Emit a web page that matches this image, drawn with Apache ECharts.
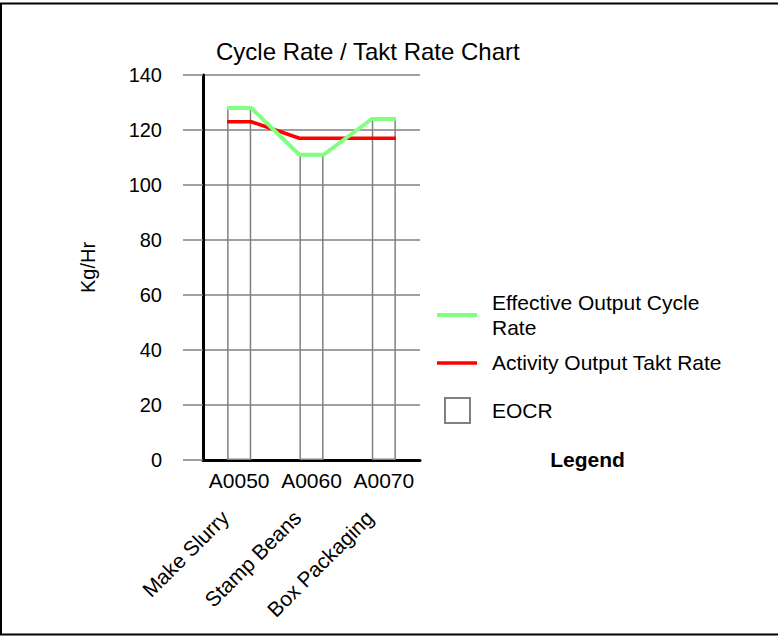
<!DOCTYPE html>
<html>
<head>
<meta charset="utf-8">
<script src="https://cdn.jsdelivr.net/npm/echarts@6/dist/echarts.min.js"></script>
<style>
html,body{margin:0;padding:0;background:#fff;}
#chart{width:778px;height:636px;}
</style>
</head>
<body>
<div id="chart"></div>
<script>
// ---- data ----
const activityCodes = ['A0050', 'A0060', 'A0070'];
const activityNames = ['Make Slurry', 'Stamp Beans', 'Box Packaging'];
const eocrValues = [128, 111, 124];              // EOCR bars
const effectiveCycleRate = [128, 111, 124];      // green line
const taktRate = [123, 117, 117];                // red line
const yMin = 0, yMax = 140, yInterval = 20;
const legendNames = ['Effective Output Cycle Rate', 'Activity Output Takt Rate', 'EOCR'];
const chartTitle = 'Cycle Rate / Takt Rate Chart';
const yAxisName = 'Kg/Hr';
const legendTitle = 'Legend';

const FONT = "'Liberation Sans', Arial, Helvetica, sans-serif";
const barFrac = 1 / 3;   // bar width as fraction of category band

// line points run across the top of each bar (left edge -> right edge)
function stepPoints(vals) {
  const pts = [];
  vals.forEach((v, i) => {
    pts.push([i + 0.5 - barFrac / 2, v]);
    pts.push([i + 0.5 + barFrac / 2, v]);
  });
  return pts;
}

const chart = echarts.init(document.getElementById('chart'), null, { renderer: 'svg' });

const legendX = 437, legendTextX = 492;

chart.setOption({
  animation: false,
  backgroundColor: '#fff',
  textStyle: { fontFamily: FONT },
  title: {
    text: chartTitle,
    left: 216,
    top: 39,
    padding: 0,
    textStyle: { fontFamily: FONT, fontSize: 24, fontWeight: 'normal', color: '#000' }
  },
  grid: { left: 203, top: 75, width: 217, height: 385, containLabel: false },
  xAxis: [
    {
      type: 'category',
      data: activityCodes,
      position: 'bottom',
      axisLine: { show: true, lineStyle: { color: '#000', width: 3 } },
      axisTick: { show: false },
      splitLine: { show: false },
      axisLabel: { interval: 0, hideOverlap: false, fontFamily: FONT, fontSize: 21, color: '#000', margin: 10 }
    },
    {
      type: 'category',
      data: activityNames,
      position: 'bottom',
      axisLine: { show: false },
      axisTick: { show: false },
      splitLine: { show: false },
      axisLabel: {
        interval: 0, hideOverlap: false, fontFamily: FONT, fontSize: 21, color: '#000',
        rotate: 45, margin: 40, padding: [0, 20, 0, 0]
      }
    },
    {
      type: 'value',
      min: 0,
      max: activityCodes.length,
      show: false
    }
  ],
  yAxis: {
    type: 'value',
    min: yMin,
    max: yMax,
    interval: yInterval,
    name: yAxisName,
    nameLocation: 'middle',
    nameGap: 105,
    nameRotate: 90,
    nameTextStyle: { fontFamily: FONT, fontSize: 20, color: '#000' },
    axisLine: { show: true, lineStyle: { color: '#000', width: 3 } },
    axisTick: { show: true, length: 20, lineStyle: { color: '#808080', width: 1.5 } },
    splitLine: { show: true, lineStyle: { color: '#808080', width: 1.5 } },
    axisLabel: { fontFamily: FONT, fontSize: 20, color: '#000', margin: 41 }
  },
  series: [
    {
      name: legendNames[2],
      type: 'bar',
      xAxisIndex: 0,
      data: eocrValues,
      barWidth: (barFrac * 100).toFixed(3) + '%',
      itemStyle: { color: 'rgba(255,255,255,0)', borderColor: '#808080', borderWidth: 1.5 },
      z: 1
    },
    {
      name: legendNames[1],
      type: 'line',
      xAxisIndex: 2,
      data: stepPoints(taktRate),
      showSymbol: false,
      symbol: 'none',
      lineStyle: { color: '#ff0000', width: 3.5 },
      z: 3
    },
    {
      name: legendNames[0],
      type: 'line',
      xAxisIndex: 2,
      data: stepPoints(effectiveCycleRate),
      showSymbol: false,
      symbol: 'none',
      lineStyle: { color: '#80ff80', width: 4 },
      z: 4
    }
  ],
  graphic: [
    {
      type: 'rect',
      shape: { x: 1, y: 3.5, width: 800, height: 631 },
      style: { fill: 'none', stroke: '#000', lineWidth: 2 },
      silent: true
    },
    {
      type: 'line',
      shape: { x1: legendX, y1: 315, x2: legendX + 40, y2: 315 },
      style: { stroke: '#80ff80', lineWidth: 4 }
    },
    {
      type: 'text',
      x: legendTextX, y: 289.5,
      style: {
        text: legendNames[0], width: 230, overflow: 'break', lineHeight: 25,
        font: '21px ' + FONT, fill: '#000', verticalAlign: 'top', align: 'left'
      }
    },
    {
      type: 'line',
      shape: { x1: legendX, y1: 363, x2: legendX + 40, y2: 363 },
      style: { stroke: '#ff0000', lineWidth: 3.5 }
    },
    {
      type: 'text',
      x: legendTextX, y: 362.5,
      style: { text: legendNames[1], font: '21px ' + FONT, fill: '#000', verticalAlign: 'middle', align: 'left' }
    },
    {
      type: 'rect',
      shape: { x: 445, y: 398, width: 25, height: 25 },
      style: { fill: '#fff', stroke: '#808080', lineWidth: 2 }
    },
    {
      type: 'text',
      x: legendTextX, y: 410.5,
      style: { text: legendNames[2], font: '21px ' + FONT, fill: '#000', verticalAlign: 'middle', align: 'left' }
    },
    {
      type: 'text',
      x: 587.5, y: 459,
      style: { text: legendTitle, font: 'bold 21px ' + FONT, fill: '#000', verticalAlign: 'middle', align: 'center' }
    }
  ]
});
</script>
</body>
</html>
